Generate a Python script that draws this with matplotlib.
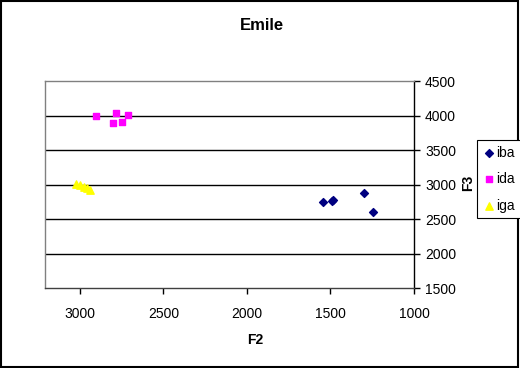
import matplotlib
matplotlib.use("Agg")
import matplotlib.pyplot as plt
from matplotlib.patches import Rectangle

plt.rcParams['font.family'] = ['Liberation Sans', 'DejaVu Sans']

series_names = ["iba", "ida", "iga"]
iba_f2 = [1547, 1489, 1483, 1302, 1248]
iba_f3 = [2742, 2765, 2775, 2872, 2601]
ida_f2 = [2901, 2783, 2711, 2801, 2747]
ida_f3 = [3996, 4033, 4014, 3894, 3909]
iga_f2 = [3022, 2998, 2974, 2956, 2938]
iga_f3 = [3007, 2993, 2964, 2949, 2920]
x_ticks = [3000, 2500, 2000, 1500, 1000]
y_ticks = [1500, 2000, 2500, 3000, 3500, 4000, 4500]

fig = plt.figure(figsize=(5.2, 3.68), dpi=100)
ax = fig.add_axes([45/520, 1-288/368, (414-45)/520, (288-81)/368])

ax.scatter(iba_f2, iba_f3, marker='D', s=16, color='#000080', label=series_names[0], zorder=3)
ax.scatter(ida_f2, ida_f3, marker='s', s=22, color='#FF00FF', label=series_names[1], zorder=3)
ax.scatter(iga_f2, iga_f3, marker='^', s=28, color='#FFFF00', label=series_names[2], zorder=3)

ax.set_xlim(3208, 1000)
ax.set_ylim(1500, 4500)
ax.set_xticks(x_ticks)
ax.set_xticklabels([str(v) for v in x_ticks], fontsize=10)
ax.set_yticks(y_ticks)
ax.set_yticklabels([str(v) for v in y_ticks], fontsize=10)
ax.yaxis.tick_right()
ax.tick_params(axis='both', direction='out', length=4, width=1, color='#000000', pad=10)
ax.tick_params(axis='y', pad=4)
for y in y_ticks[1:-1]:
    ax.axhline(y, color='#000000', lw=1, zorder=1)

ax.spines['left'].set_color('#808080')
ax.spines['top'].set_color('#808080')
ax.spines['bottom'].set_color('#404040')
ax.spines['right'].set_color('#000000')
for s in ax.spines.values():
    s.set_linewidth(1)

fig.text(262/520, 1-25/368, "Emile", ha='center', va='center', fontsize=12, fontweight='bold')
fig.text(255/520, 1-340/368, "F2", ha='center', va='center', fontsize=10, fontweight='bold')
fig.text(468/520, 1-183/368, "F3", ha='center', va='center', fontsize=10, fontweight='bold', rotation=90)

leg = fig.legend(loc='upper left', bbox_to_anchor=(477/520, 1-140/368), fontsize=10,
                 frameon=True, fancybox=False, edgecolor='#000000', framealpha=1,
                 handletextpad=0.1, handlelength=0.9, labelspacing=0.9, borderpad=0.4,
                 borderaxespad=0, scatterpoints=1)
leg.get_frame().set_linewidth(0.8)

fig.patches.append(Rectangle((0.002, 0.003), 0.994, 0.994, transform=fig.transFigure,
                             fill=False, edgecolor='#000000', lw=1.5))

fig.savefig("out.png", dpi=100)
